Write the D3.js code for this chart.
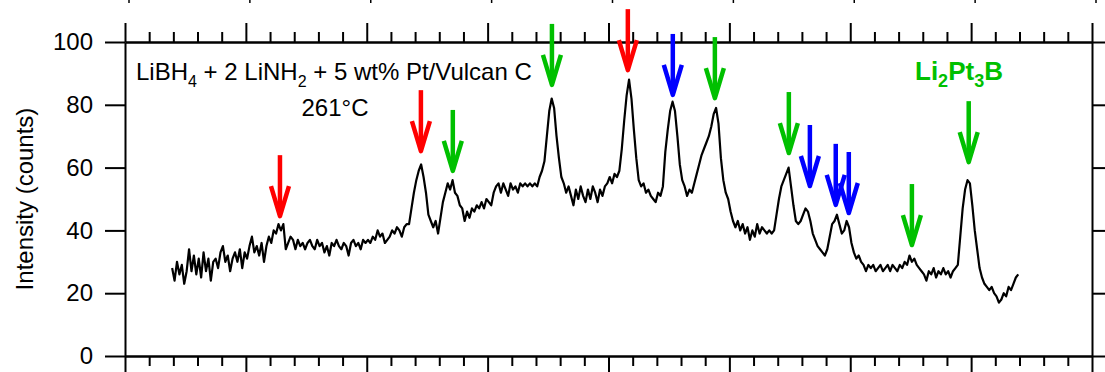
<!DOCTYPE html>
<html>
<head>
<meta charset="utf-8">
<script src="https://cdn.jsdelivr.net/npm/d3@7"></script>
<style>
body { margin: 0; background: #fff; }
svg { display: block; font-family: "Liberation Sans", Arial, sans-serif; }
</style>
</head>
<body>
<div id="chart"></div>
<script>
// XRD pattern of LiBH4 + 2 LiNH2 + 5 wt% Pt/Vulcan C at 261 C

// Pt. 0 - DATA

const scanStart = 11.95,  // 2-theta of the first point
      scanStep = 0.1;     // 2-theta step of the scan

const intensity = [
    28, 24, 30, 26, 29, 23, 27, 34, 27, 32,
    26, 31, 25, 33, 27, 31, 24, 30, 31, 28,
    33, 35, 30, 32, 27, 31, 33, 30, 34, 28,
    33, 31, 35, 38, 33, 35, 32, 36, 30, 35,
    38, 36, 40, 39, 42, 40, 42, 34, 36, 38,
    37, 34, 37, 35, 36, 34, 36, 37, 35, 34,
    37, 35, 36, 33, 35, 32, 36, 35, 37, 35,
    34, 36, 35, 32, 36, 37, 35, 36, 34, 37,
    36, 37, 36, 38, 37, 40, 38, 39, 36, 37,
    38, 40, 39, 41, 40, 38, 41, 42, 42, 47,
    52, 56, 59, 61, 57, 52, 45, 43, 41, 43,
    39, 44, 49, 52, 55, 53, 56, 52, 51, 48,
    47, 43, 46, 44, 47, 46, 48, 47, 49, 47,
    50, 49, 48, 52, 54, 55, 52, 55, 53, 51,
    55, 53, 54, 52, 55, 54, 55, 54, 55, 54,
    55, 54, 57, 59, 62, 70, 78, 82, 79, 70,
    63, 57, 55, 52, 54, 51, 48, 53, 50, 54,
    51, 49, 53, 50, 54, 52, 49, 53, 51, 54,
    55, 57, 55, 58, 57, 59, 66, 75, 83, 88,
    82, 72, 63, 56, 54, 55, 52, 53, 51, 50,
    49, 52, 51, 54, 65, 72, 78, 81, 78, 70,
    61, 56, 54, 51, 53, 52, 55, 58, 61, 64,
    66, 68, 70, 73, 77, 79, 74, 63, 56, 52,
    50, 46, 43, 41, 43, 40, 42, 39, 41, 37,
    40, 38, 42, 39, 41, 40, 39, 40, 39, 40,
    45, 50, 54, 56, 58, 60, 54, 48, 43, 42,
    43, 45, 47, 46, 43, 39, 37, 35, 34, 33,
    32, 34, 38, 42, 43, 45, 42, 39, 40, 43,
    41, 36, 33, 31, 32, 30, 29, 27, 29, 28,
    29, 27, 28, 29, 27, 28, 29, 27, 29, 28,
    27, 29, 28, 30, 29, 32, 30, 31, 29, 28,
    27, 26, 24, 27, 26, 28, 25, 27, 26, 28,
    26, 27, 25, 27, 28, 29, 38, 47, 53, 56,
    55, 48, 40, 34, 28, 25, 23, 22, 21, 22,
    20, 19, 17, 18, 20, 19, 22, 21, 23, 25,
    26
];

const yTicks = [0, 20, 40, 60, 80, 100];

// peak markers: 2-theta, intensity at the arrow tip, phase
const markTheta = [16.41, 22.24, 23.56, 27.66, 30.80, 32.66, 34.40, 37.46, 38.33, 39.40, 39.94, 42.55, 44.90];
const markTip   = [43.9, 64.6, 58.3, 85.7, 90.4, 82.5, 81.5, 64.0, 53.5, 47.5, 44.9, 34.7, 61.1];
const markPhase = ["A", "A", "Li2Pt3B", "Li2Pt3B", "A", "B", "Li2Pt3B", "Li2Pt3B", "B", "B", "B", "Li2Pt3B", "Li2Pt3B"];

// Pt.1 - DATA PROCESSING

let data = intensity.map((v, i) => ({ tt: scanStart + i * scanStep, counts: v }));
let marks = markTheta.map((t, i) => ({ tt: t, tip: markTip[i], phase: markPhase[i] }));

// Pt.2 - "TYPE SETTING"

const height = 372,
      width = 1105,
      margin = ({ top: 42, right: 13, bottom: 16, left: 125 });

const phaseColor = { "A": "#ff0000", "B": "#0000ff", "Li2Pt3B": "#00c000" };

let svg = d3.select("#chart")
    .append("svg")
    .attr("width", width)
    .attr("height", height)
    .attr("viewBox", [0, 0, width, height]);

let x = d3.scaleLinear()
    .domain([10, 50])
    .range([margin.left, width - margin.right]);

let y = d3.scaleLinear()
    .domain([0, 100])
    .range([height - margin.bottom, margin.top]);

// Pt. 3 - AXES (frame on all four sides, ticks pointing out)

const majors = d3.range(10, 51, 5),
      minors = d3.range(10, 51, 1).filter(d => d % 5 != 0);

function style(g) {
    g.selectAll("path, line").attr("stroke", "#000").attr("stroke-width", 2);
    g.selectAll("text").attr("fill", "#000");
}

// ticks of the panel above, only their ends show at the top edge
svg.append("g")
    .attr("transform", `translate(3.5, -17)`)
    .call(d3.axisBottom(x).tickValues(majors).tickSize(20).tickFormat(""))
    .call(g => g.select(".domain").remove())
    .call(g => g.selectAll("line").attr("stroke", "#000").attr("stroke-width", 1.5));

svg.append("g")
    .attr("transform", `translate(0, ${margin.top})`)
    .call(d3.axisTop(x).tickValues(minors).tickSize(10).tickSizeOuter(0).tickFormat(""))
    .call(style);

svg.append("g")
    .attr("transform", `translate(0, ${margin.top})`)
    .call(d3.axisTop(x).tickValues(majors).tickSize(19).tickSizeOuter(0).tickFormat(""))
    .call(style);

svg.append("g")
    .attr("transform", `translate(0, ${height - margin.bottom})`)
    .call(d3.axisBottom(x).tickValues(minors).tickSize(10).tickSizeOuter(0).tickFormat(""))
    .call(style);

svg.append("g")
    .attr("transform", `translate(0, ${height - margin.bottom})`)
    .call(d3.axisBottom(x).tickValues(majors).tickSize(19).tickSizeOuter(0).tickFormat(""))
    .call(style);

svg.append("g")
    .attr("transform", `translate(${margin.left}, 0)`)
    .call(d3.axisLeft(y).tickValues(yTicks).tickSize(20).tickSizeOuter(0).tickPadding(12))
    .call(style)
    .call(g => g.selectAll("text")
        .attr("font-size", 24)
        .attr("font-family", "Liberation Sans, Arial, sans-serif"));

svg.append("g")
    .attr("transform", `translate(${width - margin.right}, 0)`)
    .call(d3.axisRight(y).tickValues(yTicks).tickSize(20).tickSizeOuter(0).tickFormat(""))
    .call(style);

svg.append("text")
    .attr("transform", `translate(33, ${(margin.top + height - margin.bottom) / 2}) rotate(-90)`)
    .attr("text-anchor", "middle")
    .attr("font-size", 24)
    .text("Intensity (counts)");

// Pt. 4 - THE PATTERN

let line = d3.line()
    .x(d => x(d.tt))
    .y(d => y(d.counts));

svg.append("path")
    .datum(data)
    .attr("fill", "none")
    .attr("stroke", "#000")
    .attr("stroke-width", 2.2)
    .attr("stroke-linejoin", "round")
    .attr("d", line);

// arrows above the peaks
const arrowLen = 63, headLen = 32, headHalf = 9;

let arrow = svg.selectAll(".arrow")
    .data(marks)
    .join("g")
    .attr("class", "arrow")
    .attr("fill", "none")
    .attr("stroke", d => phaseColor[d.phase])
    .attr("stroke-width", 4.5);

arrow.append("path")
    .attr("d", d => `M${x(d.tt)},${y(d.tip) - arrowLen}V${y(d.tip) - 4}`);

arrow.append("path")
    .attr("stroke-linejoin", "round")
    .attr("d", d => `M${x(d.tt) - headHalf},${y(d.tip) - headLen}L${x(d.tt)},${y(d.tip) - 2}L${x(d.tt) + headHalf},${y(d.tip) - headLen}`);

// Pt. 5 - LABELS

let title = svg.append("text")
    .attr("x", 136)
    .attr("y", 80)
    .attr("font-size", 24);
title.append("tspan").text("LiBH");
title.append("tspan").attr("dy", 7).attr("font-size", 16).text("4");
title.append("tspan").attr("dy", -7).text(" + 2 LiNH");
title.append("tspan").attr("dy", 7).attr("font-size", 16).text("2");
title.append("tspan").attr("dy", -7).text(" + 5 wt% Pt/Vulcan C");

svg.append("text")
    .attr("x", 335)
    .attr("y", 116)
    .attr("text-anchor", "middle")
    .attr("font-size", 24)
    .text("261°C");

let phase = svg.append("text")
    .attr("x", 915)
    .attr("y", 80)
    .attr("font-size", 26)
    .attr("font-weight", "bold")
    .attr("fill", phaseColor["Li2Pt3B"]);
phase.append("tspan").text("Li");
phase.append("tspan").attr("dy", 7).attr("font-size", 18).text("2");
phase.append("tspan").attr("dy", -7).text("Pt");
phase.append("tspan").attr("dy", 7).attr("font-size", 18).text("3");
phase.append("tspan").attr("dy", -7).text("B");
</script>
</body>
</html>
